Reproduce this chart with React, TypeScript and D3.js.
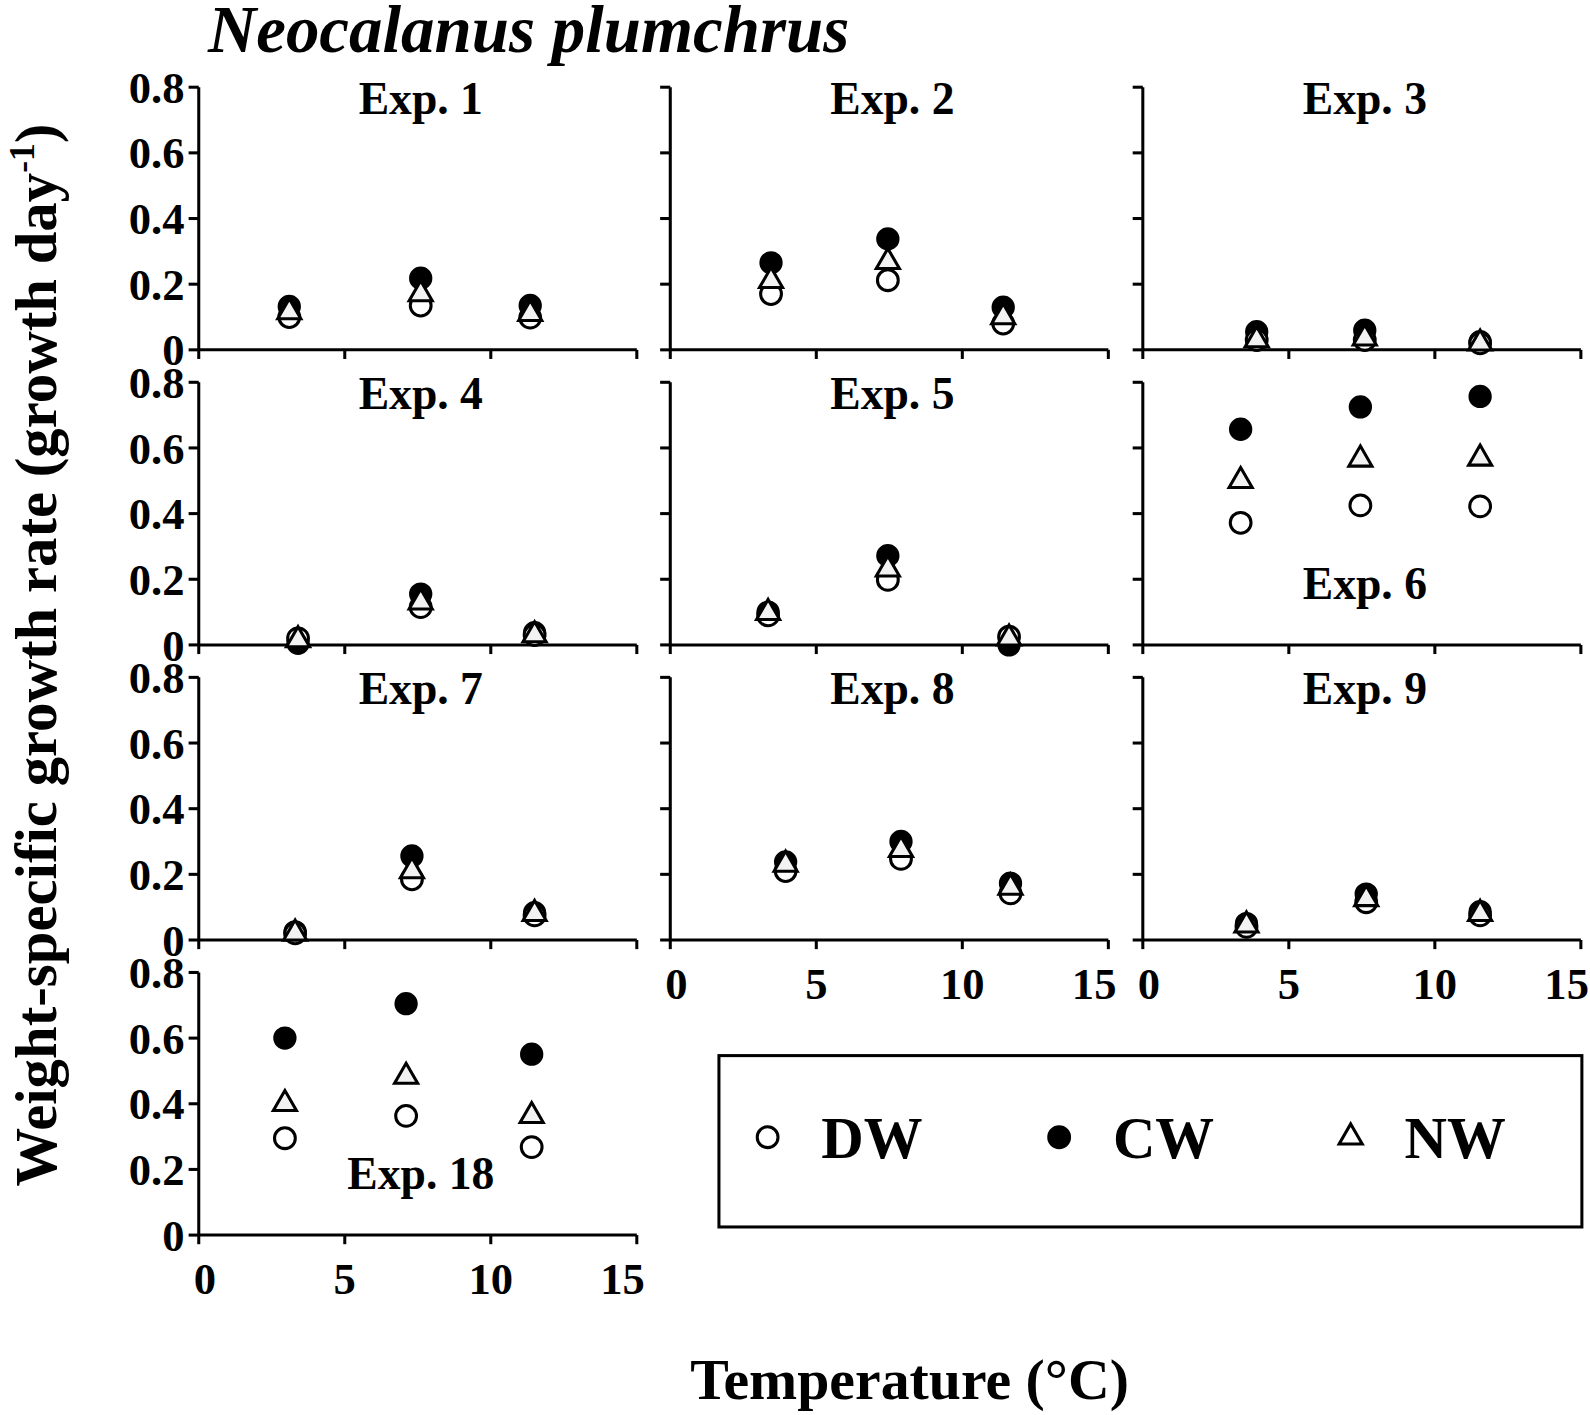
import * as d3 from "d3";

// panel names, in reading order (last one sits alone in row 4)
const experiments = ["Exp. 1", "Exp. 2", "Exp. 3", "Exp. 4", "Exp. 5", "Exp. 6", "Exp. 7", "Exp. 8", "Exp. 9", "Exp. 18"];

// temperatures (°C) of the three treatments per experiment
const temps = [
  [3.1, 7.6, 11.35],
  [3.45, 7.45, 11.4],
  [3.9, 7.6, 11.55],
  [3.4, 7.6, 11.5],
  [3.35, 7.45, 11.6],
  [3.35, 7.45, 11.55],
  [3.3, 7.3, 11.5],
  [3.95, 7.9, 11.65],
  [3.55, 7.65, 11.55],
  [2.95, 7.1, 11.4],
];

// weight-specific growth rates (growth day-1)
const dwValues = [
  [0.1, 0.135, 0.098],
  [0.17, 0.212, 0.08],
  [0.03, 0.03, 0.02],
  [0.02, 0.115, 0.03],
  [0.09, 0.198, 0.025],
  [0.372, 0.425, 0.422],
  [0.02, 0.185, 0.075],
  [0.21, 0.247, 0.142],
  [0.04, 0.115, 0.075],
  [0.295, 0.363, 0.268],
];
const cwValues = [
  [0.132, 0.218, 0.135],
  [0.265, 0.338, 0.13],
  [0.055, 0.06, 0.025],
  [0.005, 0.155, 0.037],
  [0.1, 0.272, 0.0],
  [0.657, 0.725, 0.757],
  [0.025, 0.256, 0.083],
  [0.238, 0.3, 0.173],
  [0.05, 0.14, 0.086],
  [0.6, 0.705, 0.551],
];
const nwValues = [
  [0.115, 0.17, 0.11],
  [0.21, 0.268, 0.1],
  [0.03, 0.035, 0.02],
  [0.015, 0.13, 0.03],
  [0.098, 0.23, 0.02],
  [0.5, 0.565, 0.568],
  [0.02, 0.21, 0.08],
  [0.23, 0.275, 0.16],
  [0.045, 0.125, 0.08],
  [0.4, 0.483, 0.363],
];

const xTicks = [0, 5, 10, 15];
const yTicks = [0, 0.2, 0.4, 0.6, 0.8];
const legendItems = ["DW", "CW", "NW"];

const W = 1590;
const H = 1415;
const S = 1590 / 1568; // layout measured on a 1568-wide view
const colX = [196, 661, 1127];
const rowTop = [86, 377, 668, 959];
const panelW = 432;
const panelH = 259;
const font = "'Liberation Serif', 'Times New Roman', serif";
const triFill = "#f2f2f2";

const circlePath = d3.symbol(d3.symbolCircle, 330)()!;
const trianglePath = d3.symbol(d3.symbolTriangle, 225)()!;

function Panel({ i }: { i: number }) {
  const row = i < 9 ? Math.floor(i / 3) : 3;
  const col = i < 9 ? i % 3 : 0;
  const x0 = colX[col];
  const y0 = rowTop[row];
  const x = d3.scaleLinear().domain([0, 15]).range([0, panelW]);
  const y = d3.scaleLinear().domain([0, 0.8]).range([panelH, 0]);
  const showX = i >= 7;
  const showY = col === 0;
  const inner = i === 5 || i === 9; // label drawn low in the panel
  const t = temps[i];
  return (
    <g transform={`translate(${x0},${y0})`}>
      <line x1={0} x2={0} y1={0} y2={panelH} stroke="#000" strokeWidth={3} />
      <line x1={0} x2={panelW} y1={panelH} y2={panelH} stroke="#000" strokeWidth={3} />
      {yTicks.map((v) => (
        <g key={v} transform={`translate(0,${y(v)})`}>
          <line x1={-10} x2={0} stroke="#000" strokeWidth={3} />
          {showY && (
            <text x={-14} dy="0.35em" textAnchor="end" fontSize={44} fontWeight="bold" fontFamily={font}>
              {v === 0 ? "0" : v.toFixed(1)}
            </text>
          )}
        </g>
      ))}
      {xTicks.map((v) => (
        <g key={v} transform={`translate(${x(v)},${panelH})`}>
          <line y1={0} y2={9} stroke="#000" strokeWidth={3} />
          {showX && (
            <text y={58} x={v === 0 ? 6 : v === 15 ? -14 : 0} textAnchor="middle" fontSize={44} fontWeight="bold" fontFamily={font}>
              {v}
            </text>
          )}
        </g>
      ))}
      <text
        x={panelW / 2 + 3}
        y={inner ? y(0.14) : 26}
        textAnchor="middle"
        fontSize={45}
        fontWeight="bold"
        fontFamily={font}
      >
        {experiments[i]}
      </text>
      {t.map((tv, k) => (
        <path key={"cw" + k} d={circlePath} transform={`translate(${x(tv)},${y(cwValues[i][k])})`} fill="#000" stroke="#000" strokeWidth={2.5} />
      ))}
      {t.map((tv, k) => (
        <path key={"dw" + k} d={circlePath} transform={`translate(${x(tv)},${y(dwValues[i][k])})`} fill="#fff" stroke="#000" strokeWidth={3} />
      ))}
      {t.map((tv, k) => (
        <path key={"nw" + k} d={trianglePath} transform={`translate(${x(tv)},${y(nwValues[i][k])})`} fill={triFill} stroke="#000" strokeWidth={3} />
      ))}
    </g>
  );
}

function Legend() {
  const lx = 709;
  const ly = 1041;
  const lw = 851;
  const lh = 169;
  const pos = d3.scalePoint<string>().domain(legendItems).range([48, 623]);
  return (
    <g transform={`translate(${lx},${ly})`}>
      <rect width={lw} height={lh} fill="none" stroke="#000" strokeWidth={3} />
      {legendItems.map((name) => (
        <g key={name} transform={`translate(${pos(name)},${lh / 2 - 4})`}>
          <path
            d={name === "NW" ? trianglePath : circlePath}
            fill={name === "CW" ? "#000" : "#fff"}
            stroke="#000"
            strokeWidth={3}
          />
          <text x={53} dy="0.36em" fontSize={58} fontWeight="bold" fontFamily={font}>
            {name}
          </text>
        </g>
      ))}
    </g>
  );
}

export default function App() {
  return (
    <svg width={W} height={H} style={{ position: "absolute", left: 0, top: 0, background: "#fff" }}>
      <rect width={W} height={H} fill="#fff" />
      <g transform={`scale(${S})`}>
        <text x={205} y={51} fontSize={66} fontWeight="bold" fontStyle="italic" fontFamily={font}>
          Neocalanus plumchrus
        </text>
        {experiments.map((_, i) => (
          <Panel key={i} i={i} />
        ))}
        <Legend />
        <text
          transform="translate(55,646) rotate(-90)"
          textAnchor="middle"
          fontSize={58}
          fontWeight="bold"
          fontFamily={font}
        >
          Weight-specific growth rate (growth day
          <tspan dy={-21} fontSize={35}>-1</tspan>
          <tspan dy={21}>)</tspan>
        </text>
        <text x={897} y={1380} textAnchor="middle" fontSize={57} fontWeight="bold" fontFamily={font}>
          Temperature (°C)
        </text>
      </g>
    </svg>
  );
}
